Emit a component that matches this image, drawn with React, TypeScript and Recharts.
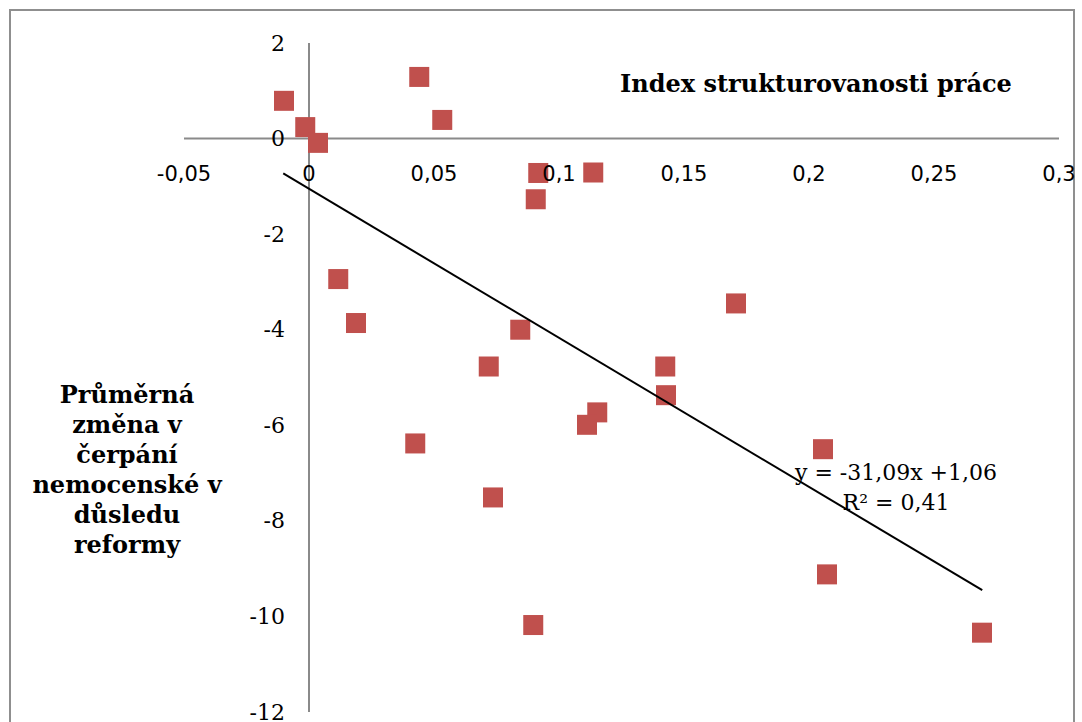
import React from "react";
import {
  ScatterChart,
  Scatter,
  XAxis,
  YAxis,
  ZAxis,
  ReferenceLine,
} from "recharts";

// Data
const xValues = [
  -0.01, -0.0015, 0.0036, 0.0441, 0.0533, 0.0917, 0.1137, 0.0907, 0.0117, 0.0188,
  0.0845, 0.1708, 0.0719, 0.1425, 0.1428, 0.1153, 0.1112, 0.0425, 0.2056, 0.0736,
  0.2072, 0.0897, 0.2692,
];
const yValues = [
  0.79, 0.24, -0.09, 1.29, 0.39, -0.72, -0.71, -1.27, -2.94, -3.86,
  -4.0, -3.45, -4.77, -4.77, -5.37, -5.73, -5.99, -6.38, -6.5, -7.51,
  -9.12, -10.18, -10.34,
];
const trendX = [-0.0103, 0.2693];
const trendY = [-0.73, -9.45];

const xTicks = [-0.05, 0, 0.05, 0.1, 0.15, 0.2, 0.25, 0.3];
const yTicks = [-12, -10, -8, -6, -4, -2, 0, 2];
const xTickLabels = ["-0,05", "0", "0,05", "0,1", "0,15", "0,2", "0,25", "0,3"];
const yTickLabels = ["-12", "-10", "-8", "-6", "-4", "-2", "0", "2"];

const X_DOMAIN: [number, number] = [-0.05, 0.3];
const Y_DOMAIN: [number, number] = [-12, 2];

const xTitle = "Index strukturovanosti práce";
const yTitleLines = ["Průměrná", "změna v", "čerpání", "nemocenské v", "důsledu", "reformy"];
const equationLines = ["y = -31,09x +1,06", "R² = 0,41"];

const points = xValues.map((x, i) => ({ x, y: yValues[i] }));
const trend = trendX.map((x, i) => ({ x, y: trendY[i] }));

// Layout
const W = 1082;
const H = 722;
const PLOT = { top: 43, right: 23, bottom: 10, left: 184 };
const Y_AXIS_W = 60;
const X_AXIS_H = 30;
const M = { top: PLOT.top - X_AXIS_H, right: PLOT.right, bottom: PLOT.bottom, left: PLOT.left - Y_AXIS_W };
const PLOT_W = W - PLOT.left - PLOT.right;
const PLOT_H = H - PLOT.top - PLOT.bottom;
const zeroX = PLOT.left + (PLOT_W * (0 - X_DOMAIN[0])) / (X_DOMAIN[1] - X_DOMAIN[0]);
const zeroY = PLOT.top + (PLOT_H * (Y_DOMAIN[1] - 0)) / (Y_DOMAIN[1] - Y_DOMAIN[0]);

const XTick = (props: any) => {
  const { x, payload } = props;
  const idx = xTicks.indexOf(payload.value);
  return (
    <text
      x={x}
      y={zeroY + 35}
      textAnchor="middle"
      dominantBaseline="central"
      fontFamily="'DejaVu Sans', Verdana, sans-serif"
      fontSize={21}
      fill="#000"
    >
      {idx >= 0 ? xTickLabels[idx] : String(payload.value)}
    </text>
  );
};

const YTick = (props: any) => {
  const { y, payload } = props;
  const idx = yTicks.indexOf(payload.value);
  return (
    <text
      x={zeroX - 24}
      y={y}
      textAnchor="end"
      dominantBaseline="central"
      fontFamily="'DejaVu Serif', Georgia, serif"
      fontSize={22}
      fill="#000"
    >
      {idx >= 0 ? yTickLabels[idx] : String(payload.value)}
    </text>
  );
};

const SquareMarker = (props: any) => {
  const { cx, cy } = props;
  if (cx == null || cy == null) return null;
  return <rect x={cx - 10} y={cy - 10} width={20} height={20} fill="#C0504D" />;
};

const NoMarker = () => null;

export default function App() {
  return (
    <div style={{ position: "absolute", left: 0, top: 0, width: W, height: H, background: "#fff", overflow: "hidden" }}>
      <div
        style={{
          position: "absolute",
          left: 9,
          top: 9,
          width: 1066,
          height: 740,
          border: "2px solid #8f8f8f",
          boxSizing: "border-box",
        }}
      />
      <div style={{ position: "absolute", left: 0, top: 0 }}>
        <ScatterChart width={W} height={H} margin={M}>
          <XAxis
            type="number"
            dataKey="x"
            orientation="top"
            domain={X_DOMAIN}
            ticks={xTicks}
            allowDataOverflow
            axisLine={false}
            tickLine={false}
            height={X_AXIS_H}
            tick={<XTick />}
            interval={0}
          />
          <YAxis
            type="number"
            dataKey="y"
            domain={Y_DOMAIN}
            ticks={yTicks}
            allowDataOverflow
            axisLine={false}
            tickLine={false}
            width={Y_AXIS_W}
            tick={<YTick />}
            interval={0}
          />
          <ZAxis range={[400, 400]} />
          <ReferenceLine x={0} stroke="#8a8a8a" strokeWidth={2} />
          <ReferenceLine y={0} stroke="#8a8a8a" strokeWidth={2} />
          <Scatter data={points} shape={<SquareMarker />} isAnimationActive={false} />
          <Scatter
            data={trend}
            line={{ stroke: "#000", strokeWidth: 2 }}
            shape={<NoMarker />}
            isAnimationActive={false}
          />
        </ScatterChart>
      </div>
      <div
        style={{
          position: "absolute",
          left: 566,
          top: 66,
          width: 500,
          textAlign: "center",
          fontFamily: "'DejaVu Serif', Georgia, serif",
          fontWeight: "bold",
          fontSize: 24,
          lineHeight: "36px",
          whiteSpace: "nowrap",
          color: "#000",
        }}
      >
        {xTitle}
      </div>
      <div
        style={{
          position: "absolute",
          left: 7,
          top: 380,
          width: 240,
          textAlign: "center",
          fontFamily: "'DejaVu Serif', Georgia, serif",
          fontWeight: "bold",
          fontSize: 24,
          lineHeight: "30px",
          color: "#000",
        }}
      >
        {yTitleLines.map((l, i) => (
          <div key={i} style={{ whiteSpace: "nowrap" }}>{l}</div>
        ))}
      </div>
      <div
        style={{
          position: "absolute",
          left: 746,
          top: 458,
          width: 300,
          textAlign: "center",
          fontFamily: "'DejaVu Serif', Georgia, serif",
          fontSize: 22,
          lineHeight: "30px",
          color: "#000",
        }}
      >
        {equationLines.map((l, i) => (
          <div key={i} style={{ whiteSpace: "nowrap" }}>{l}</div>
        ))}
      </div>
    </div>
  );
}
